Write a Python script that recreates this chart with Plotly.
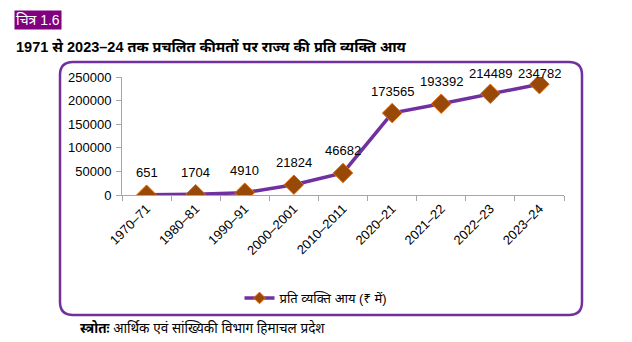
import plotly.graph_objects as go

categories = ["1970–71", "1980–81", "1990–91", "2000–2001", "2010–2011",
              "2020–21", "2021–22", "2022–23", "2023–24"]
values = [651, 1704, 4910, 21824, 46682, 173565, 193392, 214489, 234782]
y_ticks = [0, 50000, 100000, 150000, 200000, 250000]
label_shift = [22, 22, 22, 22, 22, 22, 22, 20, 11]

W, H = 632, 342
L, R, T, B = 122, 564, 77, 195  # plot area in pixels


def px(x):
    return (x - L) / (R - L)


def py(y):
    return (B - y) / (B - T)


FONT = "Liberation Sans, Arial, Noto Sans, sans-serif"
PURPLE = "#7030A0"
NAME = "प्रति व्यक्ति आय (₹ में)"

fig = go.Figure()
fig.add_trace(go.Scatter(
    x=categories, y=values, mode="lines+markers", name=NAME,
    showlegend=False,
    line=dict(color=PURPLE, width=3.5),
    marker=dict(symbol="diamond", size=15, color="#984807",
                line=dict(color="#E46C0A", width=1)),
))
# legend entry with a smaller marker
fig.add_trace(go.Scatter(
    x=[None], y=[None], mode="lines+markers", name=NAME,
    line=dict(color=PURPLE, width=3.5),
    marker=dict(symbol="diamond", size=9, color="#984807",
                line=dict(color="#E46C0A", width=1)),
))

annotations = []
for c, v, s in zip(categories, values, label_shift):
    annotations.append(dict(x=c, y=v, text=str(v), showarrow=False,
                            yshift=s, font=dict(size=13, color="black", family=FONT)))

annotations.append(dict(xref="paper", yref="paper", x=px(38), y=py(20),
                        text="चित्र 1.6", showarrow=False,
                        font=dict(size=14, color="white", family=FONT),
                        bgcolor="#800080", xanchor="center", yanchor="middle",
                        borderpad=1))
annotations.append(dict(xref="paper", yref="paper", x=px(14), y=py(46),
                        text="<b>1971 से 2023–24 तक प्रचलित कीमतों पर राज्य की प्रति व्यक्ति आय</b>",
                        showarrow=False, xanchor="left", yanchor="middle",
                        font=dict(size=14.5, color="black", family=FONT)))
annotations.append(dict(xref="paper", yref="paper", x=px(78), y=py(327),
                        text="<b>स्त्रोतः</b> आर्थिक एवं सांख्यिकी विभाग हिमाचल प्रदेश",
                        showarrow=False, xanchor="left", yanchor="middle",
                        font=dict(size=13.5, color="black", family=FONT)))

x0, x1, y0, y1, r = 60, 582, 62, 315, 13
def P(x, y):
    return f"{px(x):.5f},{py(y):.5f}"
path = (f"M {P(x0 + r, y0)} L {P(x1 - r, y0)} Q {P(x1, y0)} {P(x1, y0 + r)} "
        f"L {P(x1, y1 - r)} Q {P(x1, y1)} {P(x1 - r, y1)} "
        f"L {P(x0 + r, y1)} Q {P(x0, y1)} {P(x0, y1 - r)} "
        f"L {P(x0, y0 + r)} Q {P(x0, y0)} {P(x0 + r, y0)} Z")

fig.update_layout(
    width=W, height=H,
    margin=dict(l=L, r=W - R, t=T, b=H - B, pad=0),
    paper_bgcolor="white", plot_bgcolor="white",
    font=dict(family=FONT, size=12, color="black"),
    showlegend=True,
    legend=dict(orientation="h", xref="paper", yref="paper",
                x=px(316), y=py(298), xanchor="center", yanchor="middle",
                font=dict(size=13, family=FONT), bgcolor="rgba(0,0,0,0)",
                itemwidth=30),
    annotations=annotations,
    shapes=[dict(type="path", path=path, xref="paper", yref="paper",
                 line=dict(color=PURPLE, width=2.5), layer="below")],
    xaxis=dict(type="category", showgrid=False, showline=True,
               linecolor="#A6A6A6", linewidth=1, ticks="outside",
               tickson="boundaries", ticklen=5, tickcolor="#A6A6A6",
               tickangle=-45, tickfont=dict(size=13, color="black"),
               range=[-0.5, len(categories) - 0.5], zeroline=False),
    yaxis=dict(range=[0, 250000], tickvals=y_ticks,
               ticktext=[str(t) for t in y_ticks], showgrid=False,
               showline=True, linecolor="#A6A6A6", linewidth=1,
               ticks="outside", ticklen=5, tickcolor="#A6A6A6",
               tickfont=dict(size=13, color="black"), zeroline=False,
               ticklabelstandoff=2),
)

fig.write_html("out.html")
